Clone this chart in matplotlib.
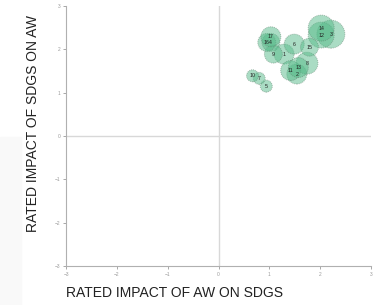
import numpy as np
import matplotlib.pyplot as plt

# Données : impact noté (x = AW sur SDGs, y = SDGs sur AW)
labels = ["1", "2", "3", "4", "5", "6", "7", "8", "9", "10",
          "11", "12", "13", "14", "15", "16", "17"]
x_vals = [1.29, 1.54, 2.21, 1.03, 0.94, 1.49, 0.80, 1.74, 1.08, 0.67,
          1.42, 2.02, 1.57, 2.02, 1.79, 0.95, 1.03]
y_vals = [1.89, 1.43, 2.35, 2.16, 1.15, 2.12, 1.33, 1.68, 1.89, 1.39,
          1.51, 2.33, 1.58, 2.49, 2.05, 2.16, 2.29]
bubble = [10, 10, 14, 9, 6, 10, 6, 11, 9, 6,
          10, 13, 10, 13, 9, 9, 10]
ticks = [-3, -2, -1, 0, 1, 2, 3]

plt.rcParams['font.family'] = ['Liberation Sans', 'DejaVu Sans']

fig = plt.figure(figsize=(3.83, 3.05), dpi=100)
ax = fig.add_axes([66 / 383, 1 - 266 / 305, 305 / 383, 260 / 305])

# fond gris très léger à gauche
fig.patches.append(plt.Rectangle((0, 0), 21 / 383, 0.55, transform=fig.transFigure,
                                 color='#f9f9f9', zorder=0))

ax.axhline(0, color='#d8d8d8', lw=1, zorder=1)
ax.axvline(0, color='#d8d8d8', lw=1, zorder=1)

sizes = [(1.44 * r) ** 2 for r in bubble]
ax.scatter(x_vals, y_vals, s=sizes, color='#57bb8a', alpha=0.5,
           edgecolors='#5f7f6c', linewidths=0.7, linestyle=(0, (1, 1)), zorder=3)
for lab, x, y in zip(labels, x_vals, y_vals):
    ax.text(x, y, lab, fontsize=3.8, ha='center', va='center', color='#222222', zorder=4)

ax.set_xlim(-3, 3)
ax.set_ylim(-3, 3)
ax.set_xticks(ticks)
ax.set_yticks(ticks)
ax.tick_params(labelsize=3.5, colors='#9a9a9a', length=2, width=0.6, pad=2)
for s in ['top', 'right']:
    ax.spines[s].set_visible(False)
for s in ['left', 'bottom']:
    ax.spines[s].set_color('#b0b0b0')
    ax.spines[s].set_linewidth(0.8)

fig.text(66 / 383, 1 - 293 / 305, "RATED IMPACT OF AW ON SDGS", fontsize=10,
         ha='left', va='center', color='#222222')
fig.text(33 / 383, 1 - 123 / 305, "RATED IMPACT OF SDGS ON AW", fontsize=10,
         ha='center', va='center', rotation=90, color='#222222')

fig.savefig('out.png', dpi=100)
